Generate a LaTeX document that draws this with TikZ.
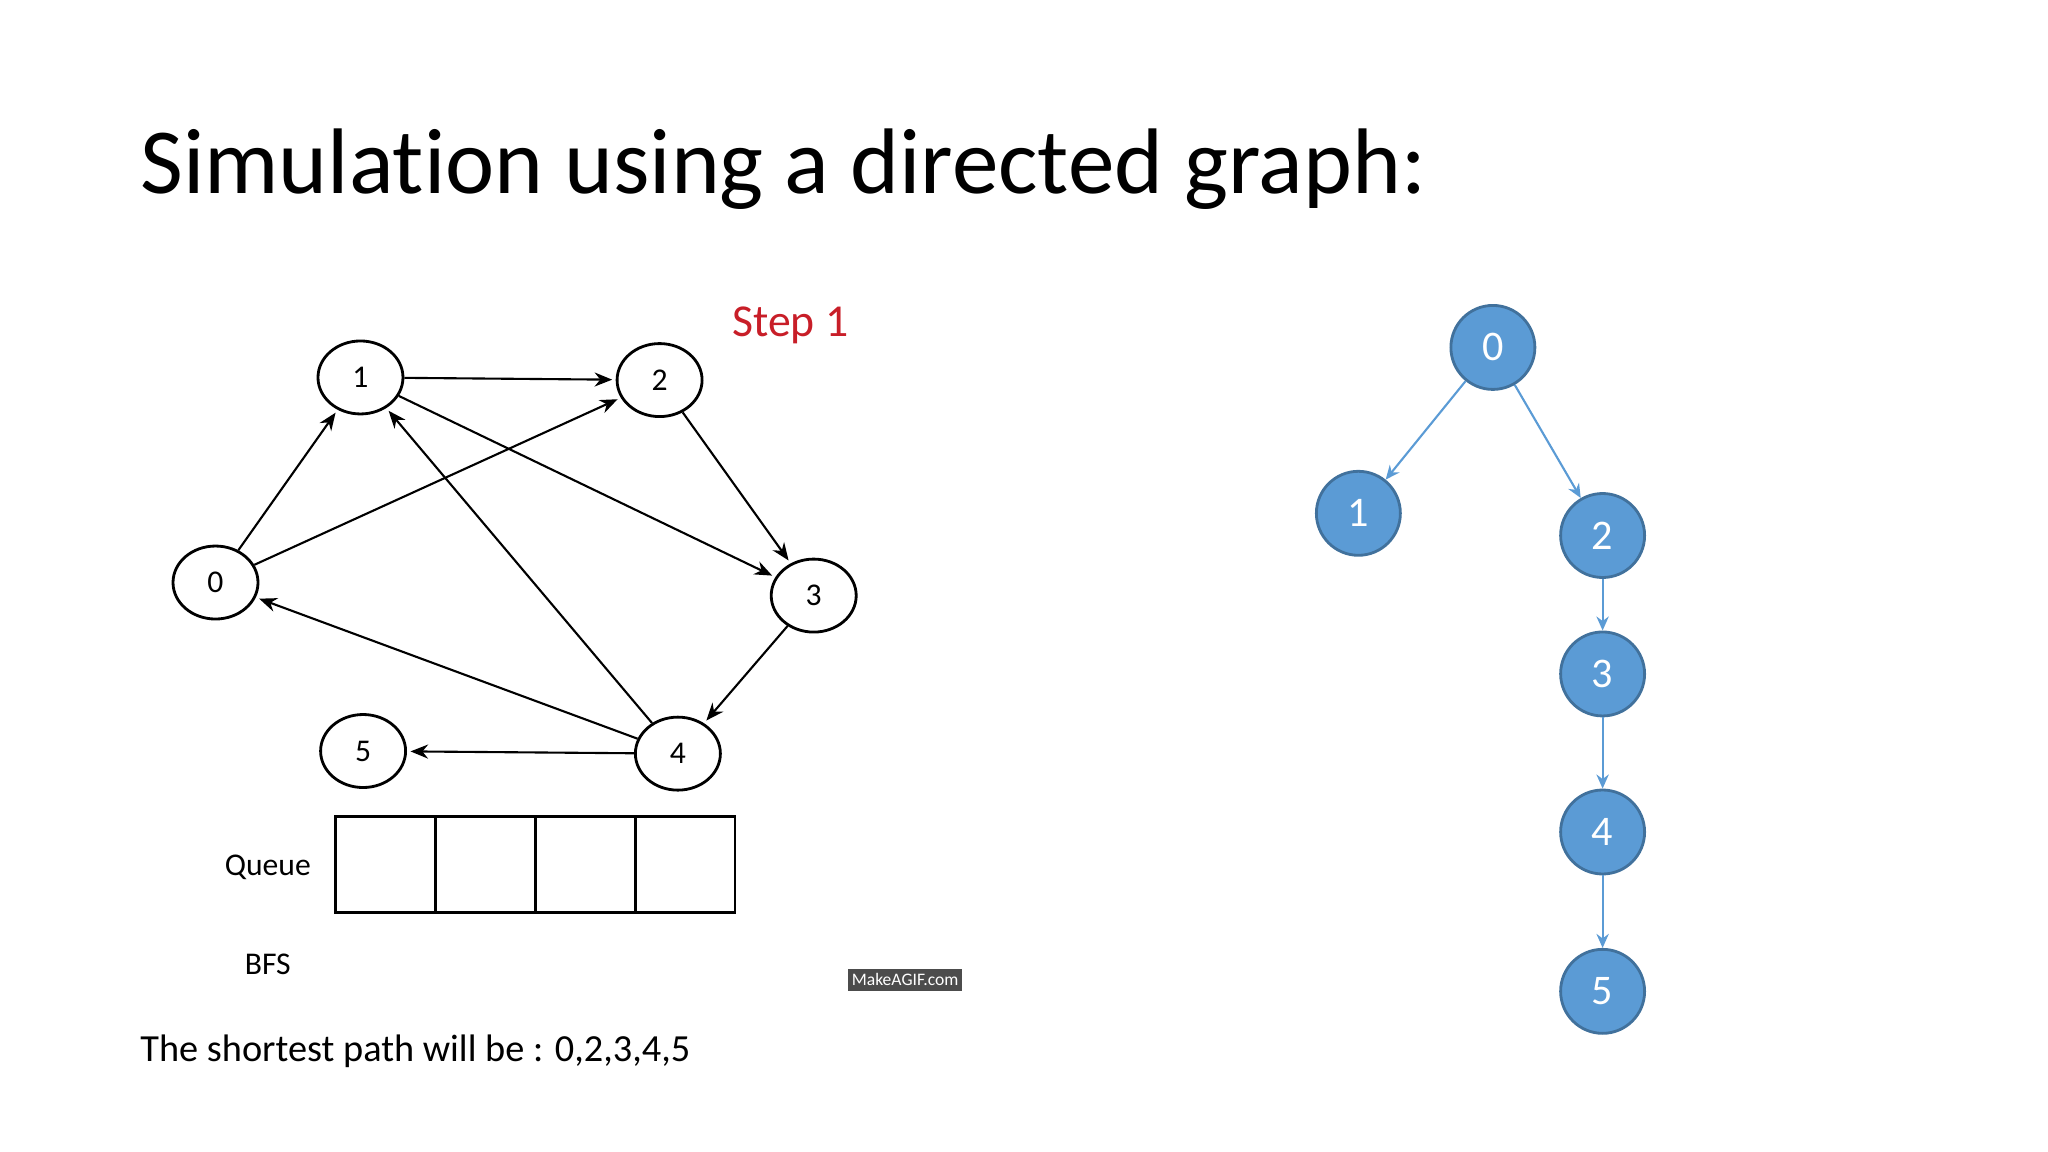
\documentclass[tikz,border=0pt]{standalone}
\usepackage{fontspec}
\setmainfont{Carlito}[Ligatures={NoCommon}]
\usetikzlibrary{shapes.geometric,arrows.meta}
\definecolor{tb}{RGB}{91,155,213}
\definecolor{tbd}{RGB}{65,113,156}
\definecolor{te}{RGB}{91,155,213}
\definecolor{stepred}{RGB}{200,30,40}
\tikzset{
 gn/.style={ellipse,draw,line width=0.8pt,minimum width=0.85cm,minimum height=0.73cm,inner sep=0pt,font=\fontsize{9}{10}\selectfont},
 ge/.style={-{Stealth[length=5pt,width=4pt]},line width=0.6pt,shorten >=1pt},
 tn/.style={circle,draw=tbd,fill=tb,line width=0.8pt,minimum size=0.84cm,inner sep=0pt,text=white,font=\fontsize{12}{13}\selectfont},
 tedge/.style={-{Stealth[length=4pt,width=3.5pt]},draw=te,line width=0.6pt},
 cell/.style={draw,line width=0.8pt,minimum width=1.0cm,minimum height=0.955cm,inner sep=0pt}
}
\begin{document}
\begin{tikzpicture}[x=0.013061cm,y=-0.013061cm]
\useasboundingbox (0,0) rectangle (1568,882);
\node[anchor=base west,font=\fontsize{26.5}{31}\selectfont,inner sep=0pt] (title) at (107,148) {Simulation using a directed graph:};
\node[gn] (a0) at (165,446) {0};
\node[gn] (a1) at (276,289) {1};
\node[gn] (a2) at (505,291) {2};
\node[gn] (a3) at (623,456) {3};
\node[gn] (a4) at (519,577) {4};
\node[gn] (a5) at (278,575) {5};
\draw[ge] (a1) -- (a2);
\draw[ge] (a0) -- (a1);
\draw[ge] (a0) -- (a2);
\draw[ge] (a1) -- (a3);
\draw[ge] (a2) -- (a3);
\draw[ge] (a3) -- (a4);
\draw[ge] (a4) -- (a0);
\draw[ge] (a4) -- (a1);
\draw[ge] (a4) -- (a5);
\node[text=stepred,font=\fontsize{13}{15}\selectfont] (step) at (605,249) {Step 1};
\node[font=\fontsize{9}{10}\selectfont] (ql) at (205,664) {Queue};
\node[cell] (c1) at (295,662) {};
\node[cell] (c2) at (371.5,662) {};
\node[cell] (c3) at (448,662) {};
\node[cell] (c4) at (524.5,662) {};
\node[font=\fontsize{9}{10}\selectfont] (bfs) at (205,738) {BFS};
\node[fill=black!70,text=white,font=\fontsize{5}{6}\selectfont,minimum width=1.12cm,minimum height=0.22cm,inner sep=1pt] (mk) at (693,750) {MakeAGIF.com};
\node[anchor=base west,font=\fontsize{10.9}{13}\selectfont,inner sep=0pt] (sp) at (107,813) {The shortest path will be : 0,2,3,4,5};
\node[tn] (t0) at (1143,266) {0};
\node[tn] (t1) at (1040,393) {1};
\node[tn] (t2) at (1227,410) {2};
\node[tn] (t3) at (1227,516) {3};
\node[tn] (t4) at (1227,637) {4};
\node[tn] (t5) at (1227,759) {5};
\draw[tedge] (t0) -- (t1);
\draw[tedge] (t0) -- (t2);
\draw[tedge] (t2) -- (t3);
\draw[tedge] (t3) -- (t4);
\draw[tedge] (t4) -- (t5);
\end{tikzpicture}
\end{document}
